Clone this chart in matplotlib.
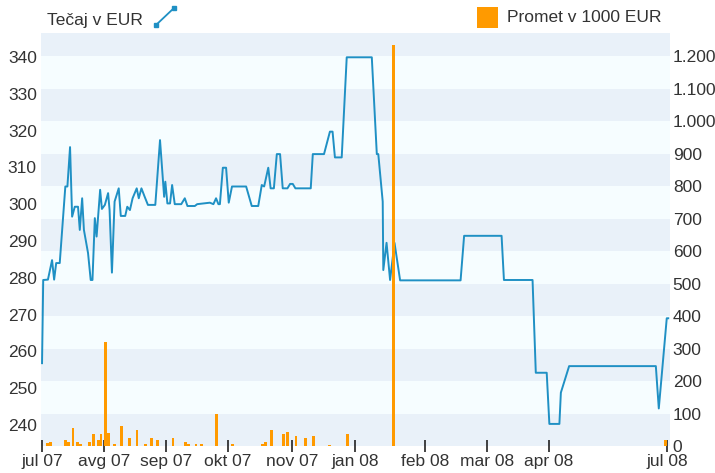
import matplotlib
matplotlib.use('Agg')
import matplotlib.pyplot as plt
from matplotlib.lines import Line2D
from matplotlib.patches import Rectangle
from matplotlib.transforms import blended_transform_factory

# x is a trading-day index starting at 2 Jul 2007
price_days = [0.0, 0.4, 2.0, 3.4, 4.1, 4.8, 6.0, 7.9, 8.6, 9.5, 10.2, 11.1, 12.2, 12.8,
              13.6, 14.2, 15.6, 16.5, 17.1, 17.9, 18.5, 19.7, 20.3, 21.3, 22.4, 22.9,
              23.7, 24.6, 26.0, 26.7, 28.2, 28.9, 29.8, 30.7, 32.1, 32.8, 33.7, 34.8,
              35.9, 38.4, 40.0, 41.4, 41.8, 42.5, 43.4, 44.1, 45.0, 47.2, 48.4, 49.3,
              51.8, 52.6, 56.9, 58.1, 59.0, 59.8, 60.3, 61.3, 62.4, 63.3, 64.4, 69.2,
              71.1, 73.3, 74.5, 75.3, 76.7, 77.5, 78.6, 79.6, 80.7, 81.6, 83.2, 84.1,
              85.0, 85.9, 91.1, 91.8, 95.6, 97.6, 98.5, 99.3, 101.6, 103.3, 111.8,
              113.5, 114.0, 115.5, 115.7, 116.8, 118.0, 119.5, 121.4, 141.9, 143.1,
              155.8, 156.6, 166.3, 167.4, 171.1, 172.0, 175.4, 175.9, 178.7, 208.1,
              209.1, 211.8, 212.3]
price_eur = [256.8, 279.4, 279.5, 284.8, 279.5, 284.0, 284.0, 304.8, 304.8, 315.5, 296.6,
             299.3, 299.3, 293.0, 301.6, 293.0, 286.7, 279.4, 279.4, 296.2, 291.2, 303.9,
             298.7, 299.8, 303.0, 298.4, 281.4, 300.7, 304.3, 296.8, 296.8, 299.3, 298.4,
             301.6, 304.3, 301.6, 304.3, 302.0, 299.8, 299.8, 317.4, 302.0, 306.1, 300.2,
             300.2, 305.2, 300.0, 300.0, 301.6, 299.5, 299.5, 300.0, 300.4, 300.0, 301.6,
             300.0, 300.0, 309.9, 309.9, 300.4, 304.8, 304.8, 299.5, 299.5, 305.2, 304.8,
             309.9, 304.3, 304.3, 313.6, 313.6, 304.3, 304.3, 305.5, 305.5, 304.3, 304.3,
             313.6, 313.6, 319.7, 319.7, 312.7, 312.7, 339.9, 339.9, 313.6, 313.6, 300.7,
             282.1, 289.5, 279.4, 289.5, 279.3, 279.3, 291.4, 291.4, 279.4, 279.4, 254.2,
             254.2, 240.3, 240.3, 248.8, 256.0, 256.0, 244.5, 269.0, 269.0]

volume_days = [2, 3, 8, 9, 10.5, 12, 13, 16, 17.6, 19, 20, 21.4, 22.4, 24.7, 26.8, 29.5,
               32.2, 35, 37, 39, 44.4, 48.8, 49.8, 52.2, 54.2, 59, 64.7, 74.9, 75.9,
               77.9, 82, 83.1, 86.1, 89.2, 91.9, 97.3, 103.7, 119.1, 211.4]
volume_k = [8, 12, 18, 13, 54, 12, 6, 13, 37, 18, 37, 321, 41, 6, 62, 24, 49, 6, 24, 18,
            24, 11, 6, 6, 6, 98, 6, 6, 12, 49, 37, 43, 31, 25, 31, 4, 37, 1234, 20]

tick_days = [0, 21, 42, 63.1, 84.7, 106.1, 129.8, 150.8, 171.9, 211.9]
tick_labels = ['jul 07', 'avg 07', 'sep 07', 'okt 07', 'nov 07', 'jan 08',
               'feb 08', 'mar 08', 'apr 08', 'jul 08']
left_ticks = [240, 250, 260, 270, 280, 290, 300, 310, 320, 330, 340]
right_ticks = list(range(0, 1300, 100))

plt.rcParams['font.family'] = ['Liberation Sans', 'DejaVu Sans']
text_col = '#333333'
blue = '#1f90c4'
orange = '#ff9a00'

fig = plt.figure(figsize=(7.15, 4.73), dpi=100)
ax = fig.add_axes([41 / 715, 1 - 446 / 473, 629 / 715, 413 / 473])
ax2 = ax.twinx()

ax.set_facecolor('#f6fdff')
ax.set_xlim(-0.35, 212.9)
ax.set_ylim(234.3, 346.5)
ax2.set_ylim(0, 1272)

# alternating bands follow the right axis grid
band_tr = blended_transform_factory(ax.transAxes, ax2.transData)
for lo in range(0, 1300, 200):
    ax.add_patch(Rectangle((0, lo), 1, 100, transform=band_tr,
                           facecolor='#e9f1f9', edgecolor='none', zorder=0))

ax.plot(price_days, price_eur, color=blue, lw=1.4, zorder=3)
ax2.bar(volume_days, volume_k, width=1.0, color=orange, zorder=3)

for a in (ax, ax2):
    for s in a.spines.values():
        s.set_visible(False)

ax.set_yticks(left_ticks)
ax.set_yticklabels([str(v) for v in left_ticks])
ax.tick_params(axis='y', length=0, pad=3, labelsize=12.5, labelcolor=text_col)
ax2.set_yticks(right_ticks)
ax2.set_yticklabels(['{:,}'.format(v).replace(',', '.') for v in right_ticks])
ax2.tick_params(axis='y', length=0, pad=2, labelsize=12.5, labelcolor=text_col)

ax.set_xticks(tick_days)
ax.set_xticklabels(tick_labels)
ax.tick_params(axis='x', direction='inout', length=8, width=1.2, color='#222222',
               pad=2, labelsize=12.5, labelcolor=text_col)

# legend header
fig.text(47 / 715, 1 - 20 / 473, 'Tečaj v EUR', fontsize=12.5, color=text_col,
         va='center', ha='left')
fig.add_artist(Line2D([156 / 715, 174 / 715], [1 - 25 / 473, 1 - 8 / 473],
                      transform=fig.transFigure, color=blue, lw=1.3,
                      marker='s', markersize=3.5))
fig.add_artist(Rectangle((477 / 715, 1 - 28 / 473), 21 / 715, 21 / 473,
                         transform=fig.transFigure, facecolor=orange, edgecolor='none'))
fig.text(507 / 715, 1 - 18 / 473, 'Promet v 1000 EUR', fontsize=12.5, color=text_col,
         va='center', ha='left')

fig.savefig('out.png', dpi=100)
